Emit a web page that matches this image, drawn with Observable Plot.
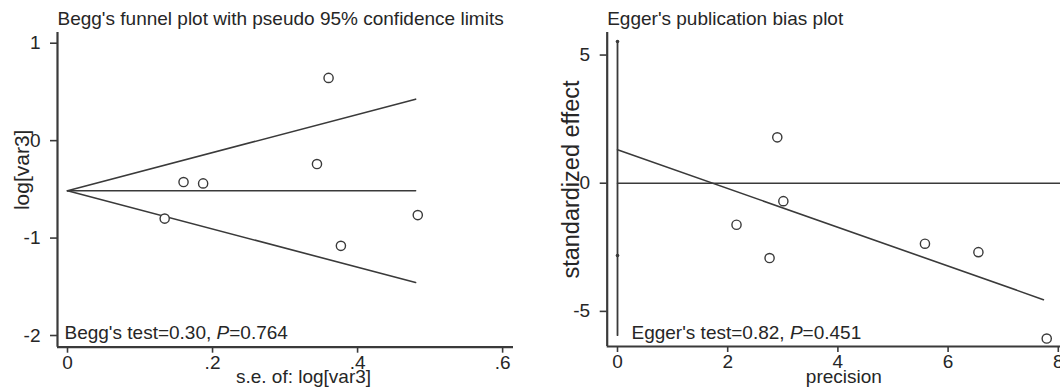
<!DOCTYPE html>
<html><head><meta charset="utf-8">
<script src="https://cdn.jsdelivr.net/npm/d3@7"></script>
<script src="https://cdn.jsdelivr.net/npm/@observablehq/plot@0.6"></script>
<style>
body{margin:0;background:#fff;}
#wrap{position:relative;width:1060px;height:392px;overflow:hidden;}
.panel{position:absolute;top:0;}
</style></head><body>
<div id="wrap"><div id="left" class="panel" style="left:0"></div><div id="right" class="panel" style="left:530px"></div></div>
<script>
// ---- Begg's funnel plot data ----
const beggTitle = "Begg's funnel plot with pseudo 95% confidence limits";
const beggSE = [0.360, 0.344, 0.160, 0.187, 0.134, 0.377, 0.483];
const beggLogVar = [0.644, -0.24, -0.425, -0.439, -0.80, -1.08, -0.764];
const beggCenter = -0.515;
const beggMaxSE = 0.48;
const beggXTicks = [0, 0.2, 0.4, 0.6];
const beggXTickLabels = ["0", ".2", ".4", ".6"];
const beggYTicks = [1, 0, -1, -2];
const beggXDomain = [-0.0138, 0.615];
const beggYDomain = [-2.12, 1.11];
const beggXLabel = "s.e. of: log[var3]";
const beggYLabel = "log[var3]";
const beggTest = ["Begg's test=0.30, ", "P", "=0.764"];

// ---- Egger's plot data ----
const eggerTitle = "Egger's publication bias plot";
const eggerPrecision = [2.90, 3.01, 2.16, 2.76, 5.58, 6.55, 7.79];
const eggerEffect = [1.79, -0.70, -1.62, -2.92, -2.36, -2.69, -6.06];
const eggerIntercept = 1.31;
const eggerSlope = -0.757;
const eggerFitMax = 7.73;
const eggerCI = [-5.93, 5.53];
const eggerCIDot = -2.82;
const eggerXTicks = [0, 2, 4, 6, 8];
const eggerYTicks = [5, 0, -5];
const eggerXDomain = [-0.187, 8.04];
const eggerYDomain = [-6.37, 5.88];
const eggerXLabel = "precision";
const eggerYLabel = "standardized effect";
const eggerTest = ["Egger's test=0.82, ", "P", "=0.451"];

const ink = "#3a3a3a";
const txt = "#262626";
const font = "'Liberation Sans', Arial, sans-serif";

function italicize(svg, parts) {
  d3.select(svg).selectAll("text").each(function() {
    if (this.textContent === parts.join("")) {
      const t = d3.select(this); t.text(null);
      t.append("tspan").text(parts[0]);
      t.append("tspan").attr("font-style", "italic").text(parts[1]);
      t.append("tspan").text(parts[2]);
    }
  });
}

// Begg
const begg = beggSE.map((s, i) => ({se: s, v: beggLogVar[i]}));
const upper = [{se: 0, v: beggCenter}, {se: beggMaxSE, v: beggCenter + 1.96 * beggMaxSE}];
const lower = [{se: 0, v: beggCenter}, {se: beggMaxSE, v: beggCenter - 1.96 * beggMaxSE}];
const center = [{se: 0, v: beggCenter}, {se: beggMaxSE, v: beggCenter}];

const leftPlot = Plot.plot({
  width: 530, height: 392,
  marginLeft: 57, marginRight: 17, marginTop: 32, marginBottom: 45.3,
  style: {fontFamily: font, fontSize: "19px", color: txt, background: "transparent", overflow: "visible"},
  x: {domain: beggXDomain},
  y: {domain: beggYDomain},
  marks: [
    Plot.axisX({ticks: beggXTicks, tickFormat: d => beggXTickLabels[beggXTicks.indexOf(d)], tickSize: 6, tickPadding: 2, label: null, stroke: ink, strokeWidth: 1.6}),
    Plot.axisY({ticks: beggYTicks, tickFormat: d => String(d), tickSize: 7, tickPadding: 10, label: null, stroke: ink, strokeWidth: 1.6}),
    Plot.ruleX([beggXDomain[0]], {stroke: ink, strokeWidth: 2.2}),
    Plot.ruleY([beggYDomain[0]], {stroke: ink, strokeWidth: 2.2}),
    Plot.line(upper, {x: "se", y: "v", stroke: ink, strokeWidth: 1.6}),
    Plot.line(lower, {x: "se", y: "v", stroke: ink, strokeWidth: 1.6}),
    Plot.line(center, {x: "se", y: "v", stroke: ink, strokeWidth: 1.6}),
    Plot.dot(begg, {x: "se", y: "v", r: 4.6, stroke: ink, strokeWidth: 1.4, fill: "white"}),
    Plot.text([beggTest.join("")], {frameAnchor: "bottom-left", dx: 7, dy: -14, textAnchor: "start", lineAnchor: "middle", fill: txt}),
    Plot.text([beggXLabel], {frameAnchor: "bottom", dx: 18, dy: 30, textAnchor: "middle", lineAnchor: "middle", fill: txt}),
    Plot.text([beggYLabel], {frameAnchor: "left", rotate: -90, dx: -35.5, dy: -20, textAnchor: "middle", lineAnchor: "middle", fontSize: 21, fill: txt}),
    Plot.text([beggTitle], {frameAnchor: "top-left", dx: 0, dy: -14, textAnchor: "start", lineAnchor: "middle", fill: txt})
  ]
});
italicize(leftPlot, beggTest);
document.getElementById("left").appendChild(leftPlot);

// Egger
const egger = eggerPrecision.map((p, i) => ({p, e: eggerEffect[i]}));
const fit = [{p: 0, e: eggerIntercept}, {p: eggerFitMax, e: eggerIntercept + eggerSlope * eggerFitMax}];
const zeroLine = [{p: 0, e: 0}, {p: eggerXDomain[1], e: 0}];
const ciLine = [{p: 0, e: eggerCI[0]}, {p: 0, e: eggerCI[1]}];

const rightPlot = Plot.plot({
  width: 530, height: 392,
  marginLeft: 76.7, marginRight: 0, marginTop: 32, marginBottom: 46,
  style: {fontFamily: font, fontSize: "19px", color: txt, background: "transparent", overflow: "visible"},
  x: {domain: eggerXDomain},
  y: {domain: eggerYDomain},
  marks: [
    Plot.axisX({ticks: eggerXTicks, tickFormat: d => String(d), tickSize: 6, tickPadding: 2, label: null, stroke: ink, strokeWidth: 1.6}),
    Plot.axisY({ticks: eggerYTicks, tickFormat: d => String(d), tickSize: 7, tickPadding: 10, label: null, stroke: ink, strokeWidth: 1.6}),
    Plot.ruleX([eggerXDomain[0]], {stroke: ink, strokeWidth: 2.2}),
    Plot.ruleY([eggerYDomain[0]], {stroke: ink, strokeWidth: 2.2}),
    Plot.line(zeroLine, {x: "p", y: "e", stroke: ink, strokeWidth: 1.6}),
    Plot.line(ciLine, {x: "p", y: "e", stroke: ink, strokeWidth: 1.8}),
    Plot.dot([{p: 0, e: eggerCI[1]}, {p: 0, e: eggerCIDot}], {x: "p", y: "e", r: 1.8, fill: ink}),
    Plot.line(fit, {x: "p", y: "e", stroke: ink, strokeWidth: 1.6}),
    Plot.dot(egger, {x: "p", y: "e", r: 4.6, stroke: ink, strokeWidth: 1.4, fill: "white"}),
    Plot.text([eggerTest.join("")], {frameAnchor: "bottom-left", dx: 24.3, dy: -13.3, textAnchor: "start", lineAnchor: "middle", fill: txt}),
    Plot.text([eggerXLabel], {frameAnchor: "bottom", dx: 10, dy: 30, textAnchor: "middle", lineAnchor: "middle", fill: txt}),
    Plot.text([eggerYLabel], {frameAnchor: "left", rotate: -90, dx: -35.5, dy: -10, textAnchor: "middle", lineAnchor: "middle", fontSize: 23.5, fill: txt}),
    Plot.text([eggerTitle], {frameAnchor: "top-left", dx: 0, dy: -14, textAnchor: "start", lineAnchor: "middle", fill: txt})
  ]
});
italicize(rightPlot, eggerTest);
document.getElementById("right").appendChild(rightPlot);
</script>
</body></html>
